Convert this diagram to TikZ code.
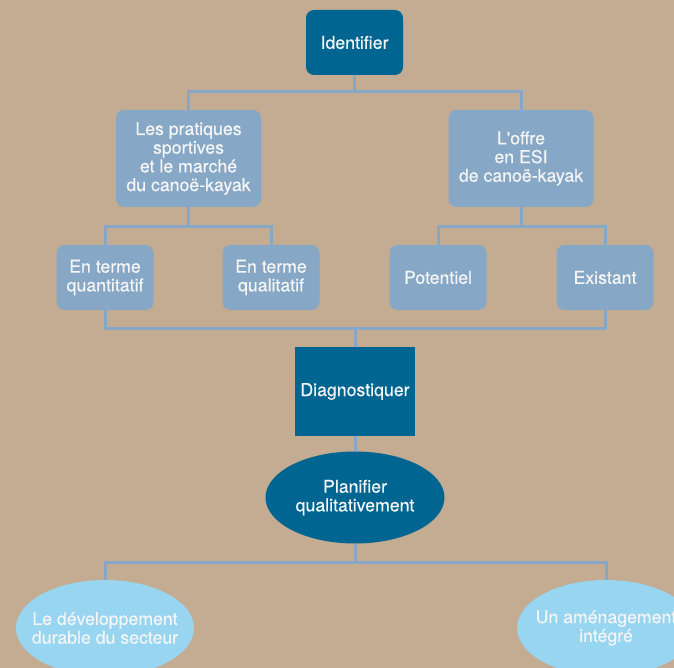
\documentclass[tikz,border=0pt]{standalone}
\usepackage{fontspec}
\setmainfont[FakeBold=0.35]{TeX Gyre Heros}
\usetikzlibrary{shapes.geometric}
\definecolor{bg}{RGB}{195,172,145}
\definecolor{dk}{RGB}{0,101,145}
\definecolor{lt}{RGB}{134,168,198}
\definecolor{sky}{RGB}{151,213,240}
\definecolor{conn}{RGB}{134,168,198}
\definecolor{txt}{RGB}{245,245,245}
\begin{document}
\begin{tikzpicture}[x=1pt,y=-1pt,
  every node/.style={text=txt, font=\fontsize{17.7}{18.7}\selectfont, align=center, inner sep=0pt},
  dkbox/.style={fill=dk, rounded corners=8pt, minimum width=97pt, minimum height=65pt},
  ltbox/.style={fill=lt, rounded corners=8pt, minimum width=97pt, minimum height=65pt},
  bigbox/.style={ltbox, minimum width=145pt, minimum height=97pt},
  diagbox/.style={fill=dk, minimum width=120pt, minimum height=89pt},
  plan/.style={ellipse, fill=dk, minimum width=179pt, minimum height=92pt},
  goal/.style={ellipse, fill=sky, minimum width=178pt, minimum height=96pt},
  link/.style={draw=conn, line width=3pt}]
\fill[bg] (0,0) rectangle (674,668);
\useasboundingbox (0,0) rectangle (674,668);
\clip (0,0) rectangle (674,668);

\node[dkbox] (id) at (354.5,42.5) {Identifier};
\node[bigbox] (pr) at (188.5,158.5) {Les pratiques\\sportives\\et le marché\\du canoë-kayak};
\node[bigbox] (of) at (521,158.5) {L\textquotesingle offre\\en ESI\\de canoë-kayak};
\node[ltbox] (qn) at (105,277.5) {En terme\\quantitatif};
\node[ltbox] (ql) at (271,277.5) {En terme\\qualitatif};
\node[ltbox] (po) at (438,277.5) {Potentiel};
\node[ltbox] (ex) at (605,277.5) {Existant};
\node[diagbox] (dg) at (355,391.5) {Diagnostiquer};
\node[plan] (pl) at (355,497.5) {};
\node (plt) at (pl.center) {Planifier\\qualitativement};
\node[goal] (dd) at (105,628) {};
\node (ddt) at (dd.center) {Le développement\\durable du secteur};
\node[goal] (am) at (606,628) {};
\node (amt) at (am.center) {Un aménagement\\intégré};

\coordinate (j1) at (354.5,92);
\coordinate (j2) at (188.5,227);
\coordinate (j3) at (521,227);
\coordinate (j4) at (355,328);
\coordinate (j5) at (355,562);

\draw[link] (id.south) -- (j1);
\draw[link] (pr.north) |- (j1) -| (of.north);
\draw[link] (pr.south) -- (j2);
\draw[link] (qn.north) |- (j2) -| (ql.north);
\draw[link] (of.south) -- (j3);
\draw[link] (po.north) |- (j3) -| (ex.north);
\draw[link] (qn.south) |- (j4) -| (ex.south);
\draw[link] (j4) -- (dg.north);
\draw[link] (dg.south) -- (pl.north);
\draw[link] (pl.south) -- (j5);
\draw[link] (dd.north) |- (j5) -| (am.north);
\end{tikzpicture}
\end{document}
